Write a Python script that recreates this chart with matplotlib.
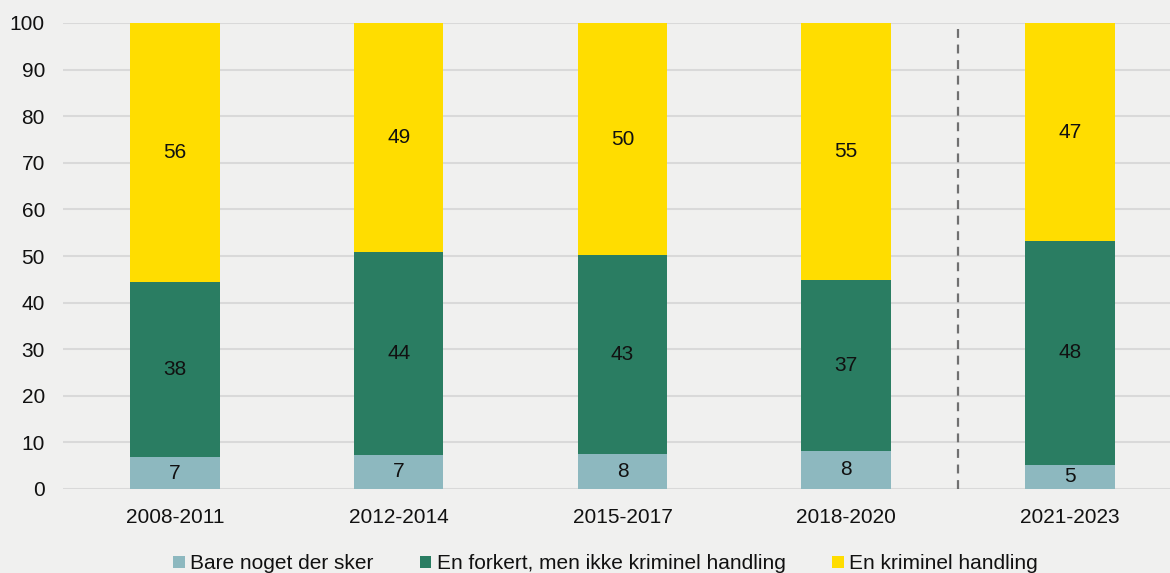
import matplotlib
matplotlib.use("Agg")
import matplotlib.pyplot as plt
import numpy as np

periods = ["2008-2011", "2012-2014", "2015-2017", "2018-2020", "2021-2023"]
bare_noget = [6.8, 7.3, 7.6, 8.2, 5.2]
forkert_ikke_kriminel = [37.6, 43.6, 42.6, 36.6, 48.0]
kriminel = [55.6, 49.1, 49.8, 55.2, 46.8]

series_names = ["Bare noget der sker",
                "En forkert, men ikke kriminel handling",
                "En kriminel handling"]
colors = ["#8DB8BF", "#2A7D62", "#FFDD00"]
yticks = [0, 10, 20, 30, 40, 50, 60, 70, 80, 90, 100]

plt.rcParams["font.family"] = ["Liberation Sans", "DejaVu Sans"]
bg = "#F0F0EF"
fs = 15

fig = plt.figure(figsize=(11.7, 5.73), dpi=100, facecolor=bg)
ax = fig.add_axes([63 / 1170, 84 / 573, 1 - 63 / 1170, (489 - 23) / 573])
ax.set_facecolor(bg)

x = np.arange(len(periods))
width = 0.40
bottom = np.zeros(len(periods))
for vals, name, col in zip([bare_noget, forkert_ikke_kriminel, kriminel], series_names, colors):
    vals = np.array(vals)
    ax.bar(x, vals, width, bottom=bottom, color=col, label=name, zorder=3)
    for xi, b, v in zip(x, bottom, vals):
        ax.text(xi, b + v / 2, f"{v:.0f}", ha="center", va="center",
                fontsize=fs, color="#111111", zorder=4)
    bottom += vals

ax.axvline(3.5, ymin=0, ymax=1, color="#707070", lw=1.6, ls=(0, (4, 3)), zorder=2)

ax.set_xlim(-0.5, 4 + (1170 - 1070) / 223.75)
ax.set_ylim(0, 100)
ax.set_yticks(yticks)
ax.set_xticks(x)
ax.set_xticklabels(periods)
ax.tick_params(axis="both", length=0, labelsize=fs, labelcolor="#111111")
ax.tick_params(axis="y", pad=13)
ax.tick_params(axis="x", pad=14)
ax.yaxis.grid(True, color="#D9D9D9", lw=1.5, zorder=1)
ax.set_axisbelow(True)
for s in ax.spines.values():
    s.set_visible(False)

fig.legend(loc="center", bbox_to_anchor=(0.5175, 0.016), ncol=3, frameon=False,
           fontsize=fs, handlelength=0.55, handleheight=0.55, handletextpad=0.25,
           columnspacing=2.25, labelcolor="#111111")

fig.savefig("out.png", dpi=100, facecolor=bg)
